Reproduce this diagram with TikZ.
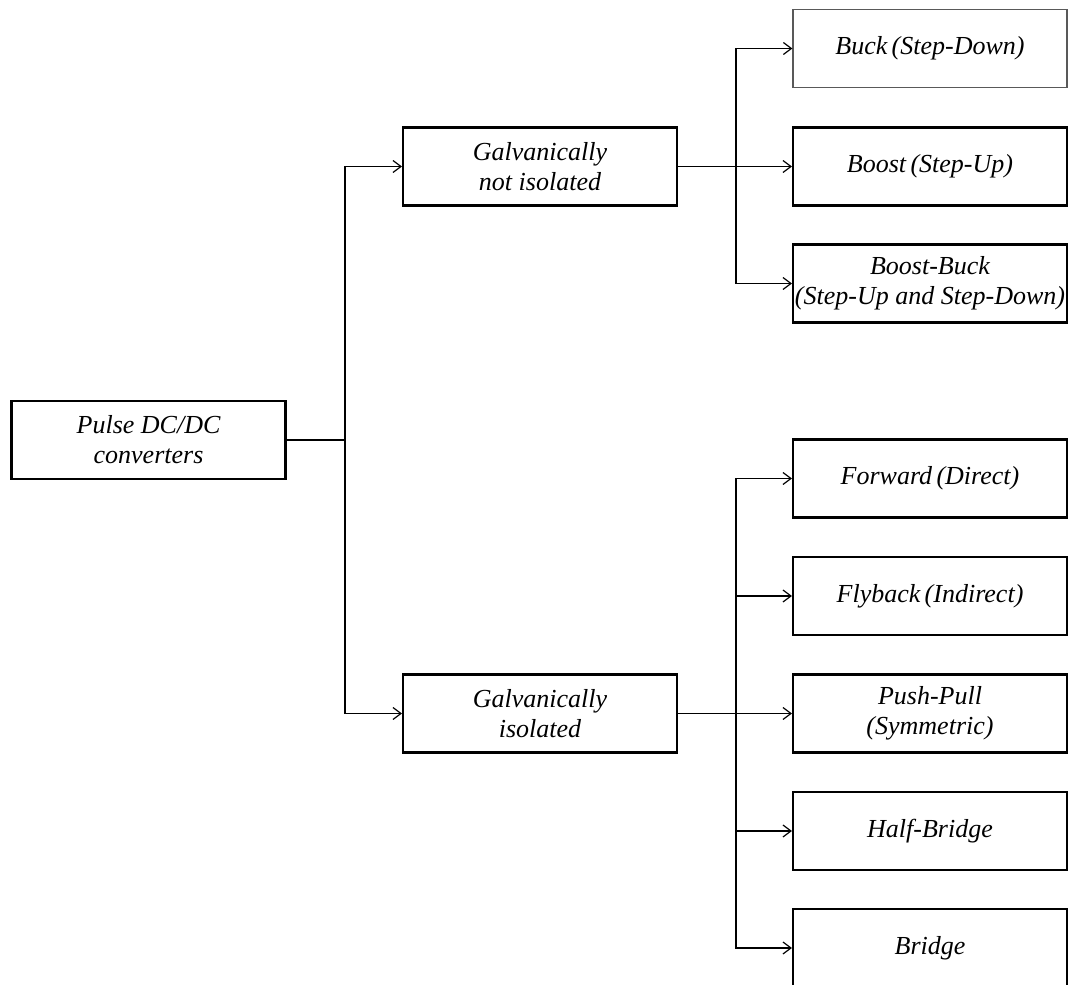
\documentclass[tikz,border=0pt]{standalone}
\usepackage{fontspec}
\setmainfont{Liberation Serif}
\usetikzlibrary{arrows.meta}
\begin{document}
\begin{tikzpicture}[x=1pt,y=-1pt,
  box/.style={draw=black, line width=2.1pt, minimum width=274pt, minimum height=78pt,
    inner sep=0pt, align=center, font=\fontsize{26}{30}\selectfont\itshape},
  lightbox/.style={box, draw=black!65, line width=1.2pt},
  link/.style={line width=1.4pt},
  arrowlink/.style={link, -{Straight Barb[length=8pt,width=12pt,line width=1.2pt]}}]
  \useasboundingbox (0,0) rectangle (1071,985);

  % root and the two main groups
  \node[box] (root) at (148.5,440) {Pulse DC/DC\\converters};
  \node[box] (ni)   at (540,166.5) {Galvanically\\not isolated};
  \node[box] (iso)  at (540,713.5) {Galvanically\\isolated};

  % converters without galvanic isolation
  \node[lightbox] (buck)  at (930,48.5)  {Buck\,(Step-Down)};
  \node[box] (boost)      at (930,166.5) {Boost\,(Step-Up)};
  \node[box] (bb)         at (930,283.5) {Boost-Buck\\(Step-Up and Step-Down)};

  % converters with galvanic isolation
  \node[box] (fwd)   at (930,478.5) {Forward\,(Direct)};
  \node[box] (fly)   at (930,596)   {Flyback\,(Indirect)};
  \node[box] (pp)    at (930,713.5) {Push-Pull\\(Symmetric)};
  \node[box] (hb)    at (930,831)   {Half-Bridge};
  \node[box] (br)    at (930,948)   {Bridge};

  % branching points
  \coordinate (j1) at (345,440);
  \coordinate (j2) at (736,166.5);
  \coordinate (j3) at (736,713.5);

  \draw[link] (root.east) -- (j1);
  \draw[arrowlink] (j1) |- (ni.west);
  \draw[arrowlink] (j1) |- (iso.west);

  \draw[link] (ni.east) -- (j2);
  \draw[arrowlink] (j2) |- (buck.west);
  \draw[arrowlink] (j2) -- (boost.west);
  \draw[arrowlink] (j2) |- (bb.west);

  \draw[link] (iso.east) -- (j3);
  \draw[arrowlink] (j3) |- (fwd.west);
  \draw[arrowlink] (j3) |- (fly.west);
  \draw[arrowlink] (j3) -- (pp.west);
  \draw[arrowlink] (j3) |- (hb.west);
  \draw[arrowlink] (j3) |- (br.west);
\end{tikzpicture}
\end{document}
